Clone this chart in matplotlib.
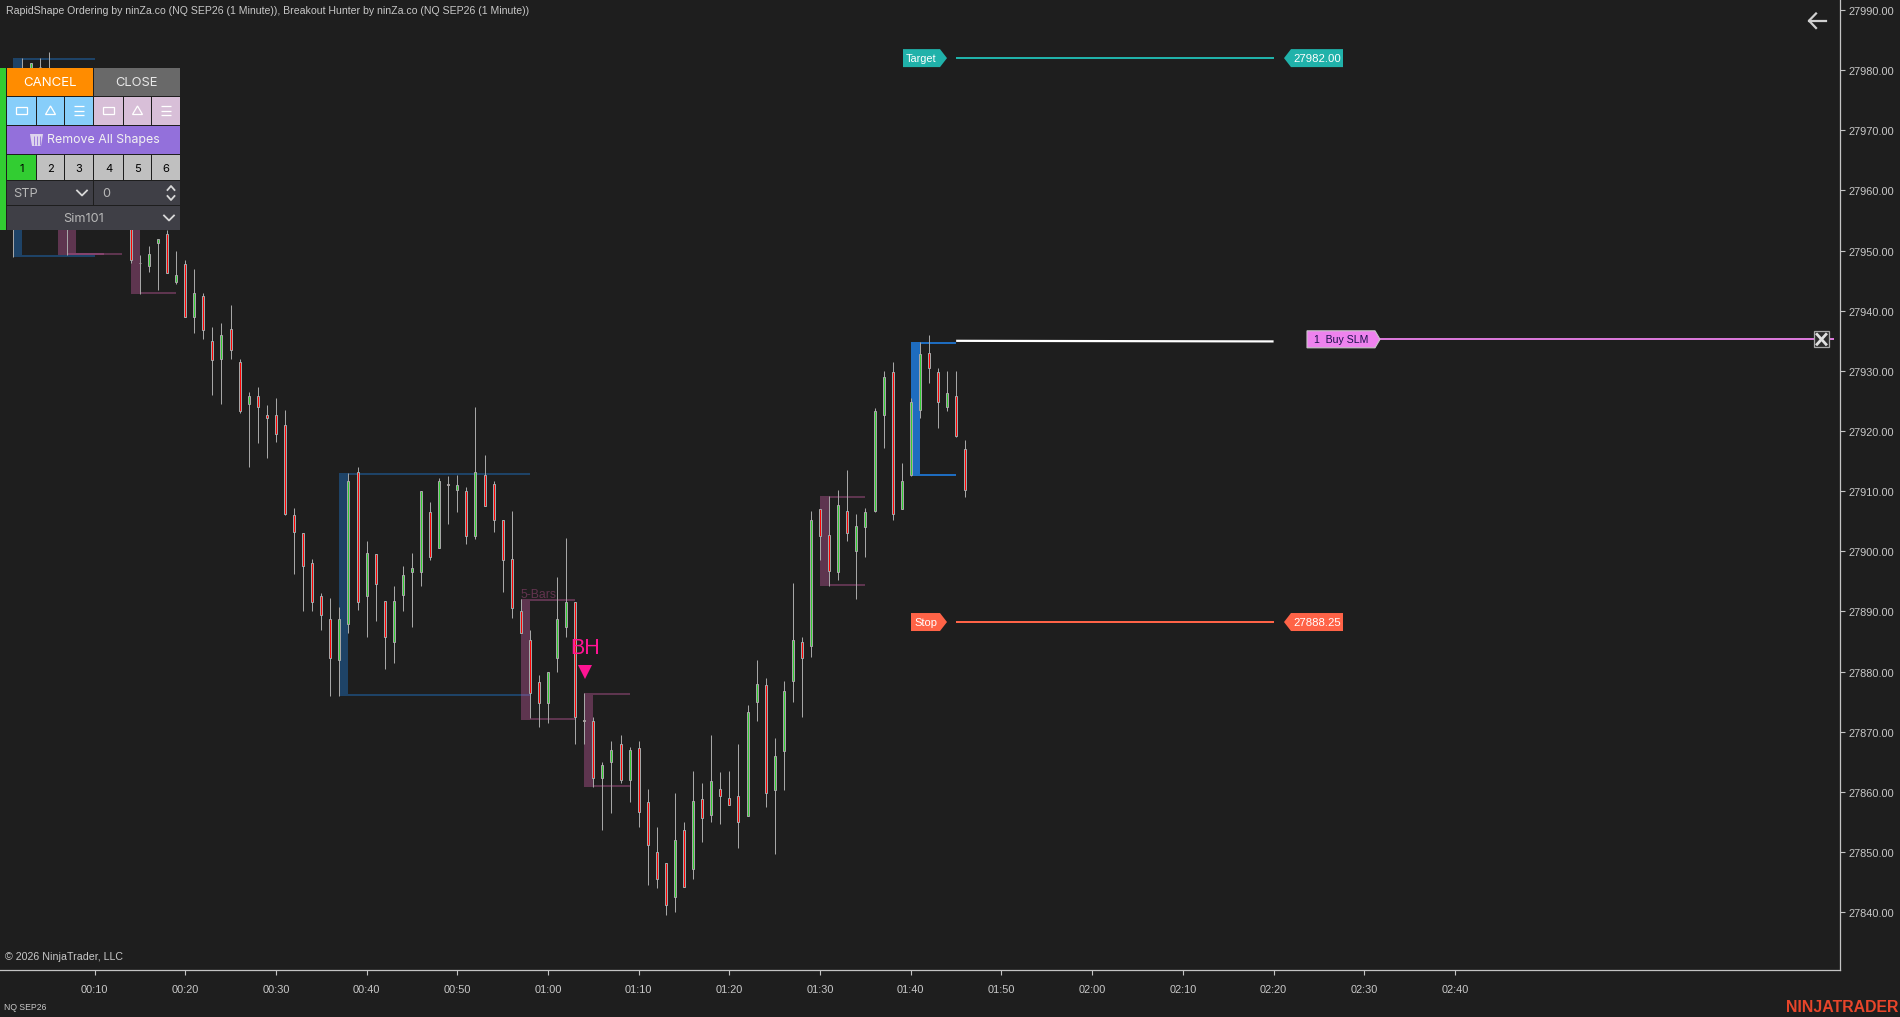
import matplotlib
matplotlib.use("Agg")
import matplotlib.pyplot as plt
from matplotlib.patches import Rectangle, Polygon
from matplotlib.transforms import ScaledTranslation

plt.rcParams['font.family'] = ['Liberation Sans', 'DejaVu Sans']

BG = "#1e1e1e"
AXIS_COL = "#c4c4c4"
TEXT_COL = "#c8c8c8"
WICK_COL = "#a6a6a6"
PINK = "#c05a9b"
DARK_BLUE = "#1e7dd7"
BRIGHT_BLUE = "#1e6cbf"
TARGET_COL = "#20b2aa"
STOP_COL = "#ff6347"
ORDER_COL = "#ee82ee"

# minutes after midnight for each 1 minute bar
minutes = list(range(1, 107))

# the first bars sit mostly behind the order panel
opens = [27965, 27972, 27973, 27980.5, 27975, 27970, 27962, 27958, 27960, 27965, 27962, 27968, 27964, 27957.5,
         27948, 27947.5, 27951.25, 27952.75, 27944.75, 27947.75, 27939, 27942.5, 27935, 27932, 27937, 27931.5,
         27924.5, 27925.75, 27922.75, 27922.75, 27921, 27906, 27903, 27898, 27892.5, 27888.75, 27882, 27888,
         27913.25, 27892.5, 27899.5, 27891.75, 27885, 27892.75, 27896.5, 27896.5, 27906.5, 27900.5, 27911.25,
         27910.25, 27910, 27902.5, 27912.75, 27911.25, 27905.25, 27898.75, 27890, 27885.25, 27878.25, 27874.75,
         27882.25, 27887.5, 27891.5, 27872, 27871.75, 27862.25, 27865, 27868, 27862, 27867.25, 27858.25, 27850,
         27848.25, 27842.5, 27853.75, 27847.25, 27858.75, 27856.25, 27860.5, 27859, 27859.25, 27856, 27875,
         27877.75, 27860.25, 27866.75, 27878.5, 27885, 27884.25, 27907, 27902.75, 27896.5, 27906.75, 27900,
         27904, 27906.75, 27922.75, 27929.75, 27907, 27912.75, 27923.5, 27933, 27929.75, 27924, 27925.75, 27917]
highs = [27972, 27982, 27981.25, 27982, 27983, 27975, 27966, 27961, 27965, 27968, 27970, 27972, 27970, 27958.5,
         27949.25, 27950.75, 27952, 27953.5, 27950, 27948.5, 27947, 27943, 27937.25, 27938, 27941, 27932,
         27926.5, 27927.25, 27924.25, 27925.5, 27923.5, 27907.25, 27903, 27898.75, 27893, 27892.25, 27890.75, 27913,
         27914, 27901.75, 27899.5, 27891.75, 27894.25, 27897.5, 27899.75, 27910, 27908.25, 27912.25, 27912.5,
         27912.75, 27910.75, 27924, 27916, 27911.75, 27905.25, 27906.75, 27892, 27887, 27879.5, 27880,
         27895.75, 27902.25, 27891.5, 27876.5, 27872.5, 27865, 27868.5, 27869.5, 27867.5, 27868.5, 27860.5, 27854.25,
         27848.25, 27859.75, 27855, 27863.5, 27861.5, 27869.5, 27863.25, 27863.5, 27868, 27874.5, 27882,
         27879, 27869, 27878.5, 27894.75, 27885.75, 27906.75, 27907, 27909.25, 27910.25, 27913.5, 27906.25,
         27907.25, 27923.75, 27930, 27931.5, 27914.75, 27925.5, 27934.75, 27936, 27930.5, 27930, 27930, 27918.5]
lows = [27949, 27965, 27968, 27970, 27965, 27960, 27949.25, 27954, 27955, 27958, 27956, 27960, 27958, 27948,
        27942.75, 27946.5, 27943.5, 27946.25, 27944.5, 27939, 27936.25, 27935.25, 27926, 27924.5, 27932, 27923,
        27914, 27918, 27915.5, 27918.25, 27906, 27896.25, 27890, 27890, 27887, 27876, 27876, 27886.5,
        27890.25, 27885.75, 27888.5, 27880.5, 27881.5, 27890, 27887.5, 27894.25, 27898.5, 27900.5, 27904.5,
        27906.5, 27901.25, 27902, 27907.5, 27903.25, 27893.25, 27889, 27886.5, 27872.25, 27870.75, 27871.5,
        27880, 27885.75, 27868, 27868, 27860.75, 27853.75, 27856.5, 27861.5, 27858.25, 27854.25, 27844.5, 27844,
        27839.5, 27840, 27844.25, 27845.5, 27851.75, 27855, 27854.75, 27857.75, 27850.75, 27856, 27871.75,
        27857.5, 27849.75, 27860.25, 27875, 27872.5, 27882.5, 27898.5, 27894.25, 27895.25, 27901.75, 27892,
        27899, 27906.5, 27917.25, 27905.25, 27907, 27912.5, 27922.25, 27928, 27920.5, 27923.25, 27919, 27909]
closes = [27960, 27975, 27981.25, 27980.5, 27972, 27965, 27958, 27955, 27962, 27960, 27968, 27964, 27966, 27948.5,
          27948, 27949.5, 27952, 27946.25, 27946, 27939, 27943, 27936.75, 27931.75, 27936, 27933.5, 27923.25,
          27925.75, 27924, 27922.25, 27919.5, 27906.25, 27903.25, 27897.5, 27891.5, 27889.5, 27882.25, 27888.75, 27911.75,
          27891.5, 27899.75, 27894.5, 27885.75, 27891.75, 27896, 27897.25, 27910, 27899, 27911.75, 27911,
          27911, 27902.5, 27913.25, 27907.5, 27905.25, 27898.5, 27890.5, 27886.5, 27876.5, 27874.75, 27880,
          27888.75, 27891.5, 27872.5, 27871.75, 27862.25, 27864.5, 27867, 27862, 27867, 27856.75, 27851.25, 27845.5,
          27841.25, 27852, 27844.25, 27858.5, 27855.75, 27861.75, 27859.25, 27857.75, 27855, 27873.25, 27878,
          27859.75, 27866, 27876.75, 27885.25, 27882.25, 27905.25, 27902.5, 27896.75, 27907.75, 27903, 27904.25,
          27906.5, 27923.25, 27929, 27906.25, 27911.75, 27924.75, 27932.75, 27930.5, 27924.75, 27926.25, 27919.25, 27910.25]

# breakout boxes: start bar, line end bar, top price, bottom price
blue_boxes = [(1, 10, 27982, 27949), (37, 58, 27913, 27876)]
pink_boxes = [(6, 11, 27965, 27949.25), (7, 13, 27965, 27949.25), (14, 19, 27965, 27942.75),
              (57, 63, 27892, 27872), (64, 69, 27876.5, 27860.75), (90, 95, 27909.25, 27894.25)]
live_box = (100, 105, 27934.75, 27912.5)

price_ticks = list(range(27840, 28000, 10))
time_ticks = list(range(10, 170, 10))
time_labels = ["%02d:%02d" % (m // 60, m % 60) for m in time_ticks]

target_price = 27982.00
stop_price = 27888.25
entry_price = 27935.0
order_price = 27935.25
header = "RapidShape Ordering by ninZa.co (NQ SEP26 (1 Minute)), Breakout Hunter by ninZa.co (NQ SEP26 (1 Minute))"

Y_TOP = 27991.66
Y_BOTTOM = 27830.4
X_LEFT = -0.42
X_RIGHT = 202.45


def price_to_px(p):
    return (Y_TOP - p) / (Y_TOP - Y_BOTTOM) * 970


fig = plt.figure(figsize=(19, 10.17), dpi=100, facecolor=BG)
ax = fig.add_axes([0, 47 / 1017, 1840 / 1900, 970 / 1017], facecolor=BG)
ax.set_xlim(X_LEFT, X_RIGHT)
ax.set_ylim(Y_BOTTOM, Y_TOP)

for side in ["top", "left"]:
    ax.spines[side].set_visible(False)
for side in ["right", "bottom"]:
    ax.spines[side].set_color(AXIS_COL)
    ax.spines[side].set_linewidth(0.9)

ax.yaxis.tick_right()
ax.set_yticks(price_ticks)
ax.set_yticklabels(["%.2f" % p for p in price_ticks])
ax.set_xticks(time_ticks)
ax.set_xticklabels(time_labels)
ax.tick_params(axis="y", length=3.6, width=0.8, color=AXIS_COL, labelcolor=TEXT_COL, labelsize=7.9, pad=2.6)
ax.tick_params(axis="x", length=3.6, width=0.8, color=AXIS_COL, labelcolor=TEXT_COL, labelsize=7.9, pad=7)

# price labels sit a pixel lower than matplotlib centres them
one_px_down = ScaledTranslation(0, -1 / 100, fig.dpi_scale_trans)
for lbl in ax.get_yticklabels():
    lbl.set_transform(lbl.get_transform() + one_px_down)


def draw_box(box, color, alpha):
    start, end, top, bottom = box
    line_h = 2 / 6.015
    ax.add_patch(Rectangle((start, bottom), 1, top - bottom, fc=color, ec="none", alpha=alpha, zorder=1))
    ax.add_patch(Rectangle((start + 1, top - line_h), end - start - 1, line_h, fc=color, ec="none", alpha=alpha, zorder=1))
    ax.add_patch(Rectangle((start + 1, bottom), end - start - 1, line_h, fc=color, ec="none", alpha=alpha, zorder=1))


for box in blue_boxes:
    draw_box(box, DARK_BLUE, 0.4)
for box in pink_boxes:
    draw_box(box, PINK, 0.4)
draw_box(live_box, BRIGHT_BLUE, 1.0)

# candles
ax.vlines(minutes, lows, highs, color=WICK_COL, linewidth=0.72, zorder=2)
body_colors = ["#32cd32" if c > o else "#ff0000" for o, c in zip(opens, closes)]
body_bottoms = [min(o, c) for o, c in zip(opens, closes)]
body_heights = [abs(c - o) for o, c in zip(opens, closes)]
ax.bar(minutes, body_heights, bottom=body_bottoms, width=2 / 9.07, color=body_colors,
       edgecolor=WICK_COL, linewidth=0.72, zorder=3)

ax.text(57, 27892.8, "5-Bars", color="#63344f", fontsize=8.8, va="center", ha="left", zorder=4)
ax.text(64.1, 27883.8, "BH", color="#ff1493", fontsize=15.5, va="center", ha="center", zorder=4)
ax.plot([64.1], [27880], marker="v", ms=10.4, mew=0, color="#ff1493", zorder=4)

# order lines
ax.plot([105, 140], [target_price, target_price], color=TARGET_COL, lw=1.44, zorder=4, solid_capstyle="butt")
ax.plot([105, 140], [stop_price, stop_price], color=STOP_COL, lw=1.44, zorder=4, solid_capstyle="butt")
ax.plot([105, 140], [entry_price, entry_price - 0.1], color="white", lw=1.6, zorder=4, solid_capstyle="butt")
ax.plot([150, 201.8], [order_price, order_price], color=ORDER_COL, lw=1.3, zorder=4, solid_capstyle="butt")

# everything else is drawn in screen pixels on top of the chart
ui = fig.add_axes([0, 0, 1, 1], zorder=5)
ui.set_xlim(0, 1900)
ui.set_ylim(1017, 0)
ui.axis("off")


def tag(x0, x1, tip_x, y0, y1, color, label, text_col="white", edge="none", size=8):
    # pointed price tag, the tip sits on tip_x
    if tip_x > x1:
        pts = [(x0, y0), (x1, y0), (tip_x, (y0 + y1) / 2), (x1, y1), (x0, y1)]
    else:
        pts = [(tip_x, (y0 + y1) / 2), (x0, y0), (x1, y0), (x1, y1), (x0, y1)]
    ui.add_patch(Polygon(pts, closed=True, fc=color, ec=edge, lw=0.8))
    ui.text((x0 + x1) / 2, (y0 + y1) / 2 + 0.5, label, color=text_col, fontsize=size, ha="center", va="center")


t_y = price_to_px(target_price)
s_y = price_to_px(stop_price)
o_y = price_to_px(order_price)
tag(903, 940, 947, t_y - 9, t_y + 9, TARGET_COL, "Target", size=7.8)
tag(1291, 1343, 1284, t_y - 9, t_y + 9, TARGET_COL, "%.2f" % target_price, size=8.2)
tag(911, 940, 947, s_y - 9, s_y + 9, STOP_COL, "Stop", size=8)
tag(1291, 1343, 1284, s_y - 9, s_y + 9, STOP_COL, "%.2f" % stop_price, size=8.2)
tag(1307, 1375, 1380, o_y - 8.5, o_y + 8.5, ORDER_COL, "1  Buy SLM", text_col="#1c0f4d", edge="#c8c8c8", size=7.6)

# close order button
ui.add_patch(Rectangle((1814, o_y - 8), 15, 16, fc="#2c2c2c", ec="#a8a8a8", lw=0.9))
ui.plot([1817, 1826], [o_y - 5, o_y + 5], color="#e0e0e0", lw=2)
ui.plot([1817, 1826], [o_y + 5, o_y - 5], color="#e0e0e0", lw=2)

# back arrow
ui.plot([1809, 1826], [20.7, 20.7], color="#d0d0d0", lw=1.6)
ui.plot([1816, 1809, 1816], [13.5, 20.7, 28], color="#d0d0d0", lw=1.6)

ui.text(5.5, 11, header, color=TEXT_COL, fontsize=7.6, ha="left", va="center")
ui.text(5, 957, "\u00a9 2026 NinjaTrader, LLC", color=TEXT_COL, fontsize=7.7, ha="left", va="center")
ui.text(4, 1007.5, "NQ SEP26", color=TEXT_COL, fontsize=6.2, ha="left", va="center")
ui.text(1898, 1007, "NINJATRADER", color="#e8452a", fontsize=11.4, fontweight="bold", ha="right", va="center")


def button(x0, x1, y0, y1, color, label=None, text_col="white", size=9.5, cx=None):
    ui.add_patch(Rectangle((x0, y0), x1 - x0, y1 - y0, fc=color, ec="none"))
    if label is not None:
        if cx is None:
            cx = (x0 + x1) / 2
        ui.text(cx, (y0 + y1) / 2 + 1, label, color=text_col, fontsize=size, ha="center", va="center", family="Inter")


# order panel
columns = [(7, 36), (37, 64), (65, 93), (94, 123), (124, 151), (152, 180)]
ui.add_patch(Rectangle((0, 68), 180, 162, fc=BG, ec="none"))
ui.add_patch(Rectangle((0, 68), 6, 162, fc="#32cd32", ec="none"))
button(7, 93, 68, 96, "#ff8c00", "CANCEL")
button(94, 180, 68, 96, "#696969", "CLOSE", text_col="#e8e8e8", size=9.3)

for i, (x0, x1) in enumerate(columns):
    color = "#87cefa" if i < 3 else "#d8bfd8"
    button(x0, x1, 97, 125, color)
    cx = (x0 + x1) / 2
    if i % 3 == 0:
        ui.add_patch(Rectangle((cx - 5.5, 107), 11, 7, fc="none", ec="white", lw=0.9))
    elif i % 3 == 1:
        ui.add_patch(Polygon([(cx - 5, 114.5), (cx + 5, 114.5), (cx, 106)], closed=True, fc="none", ec="white", lw=0.9))
    else:
        ui.hlines([106, 110.5, 115], cx - 5, cx + 5, color="white", lw=0.9)

button(7, 180, 126, 154, "#9370db")
ui.text(103.5, 140.5, "Remove All Shapes", color="#f2f2f2", fontsize=8.9, ha="center", va="center", family="Inter")
# waste basket
ui.add_patch(Polygon([(30, 134), (43, 134), (41, 146), (32, 146)], closed=True, fc="#e6e0f0", ec="none", alpha=0.9))
ui.vlines([33.5, 36.5, 39.5], 136, 145, color="#9370db", lw=0.6)

for i, (x0, x1) in enumerate(columns):
    button(x0, x1, 155, 180, "#32cd32" if i == 0 else "#c0c0c0", str(i + 1), text_col="black", size=8)

button(7, 93, 181, 205, "#3f3f46", "STP", text_col="#b8b8b8", size=9.2, cx=26)
button(94, 180, 181, 205, "#3f3f46", "0", text_col="#b8b8b8", size=9.2, cx=106)
button(7, 180, 206, 230, "#3f3f46", "Sim101", text_col="#b8b8b8", size=9.2, cx=83.5)


def chevron(cx, cy, half_w, half_h, color="#d8d8d8", lw=1.3):
    ui.plot([cx - half_w, cx, cx + half_w], [cy - half_h, cy + half_h, cy - half_h], color=color, lw=lw)


chevron(82, 193, 5, 2.5)
chevron(169, 218, 5, 2.5)
chevron(171, 188, 3.5, -2)
chevron(171, 198, 3.5, 2)

fig.savefig("out.png", dpi=100, facecolor=BG)
